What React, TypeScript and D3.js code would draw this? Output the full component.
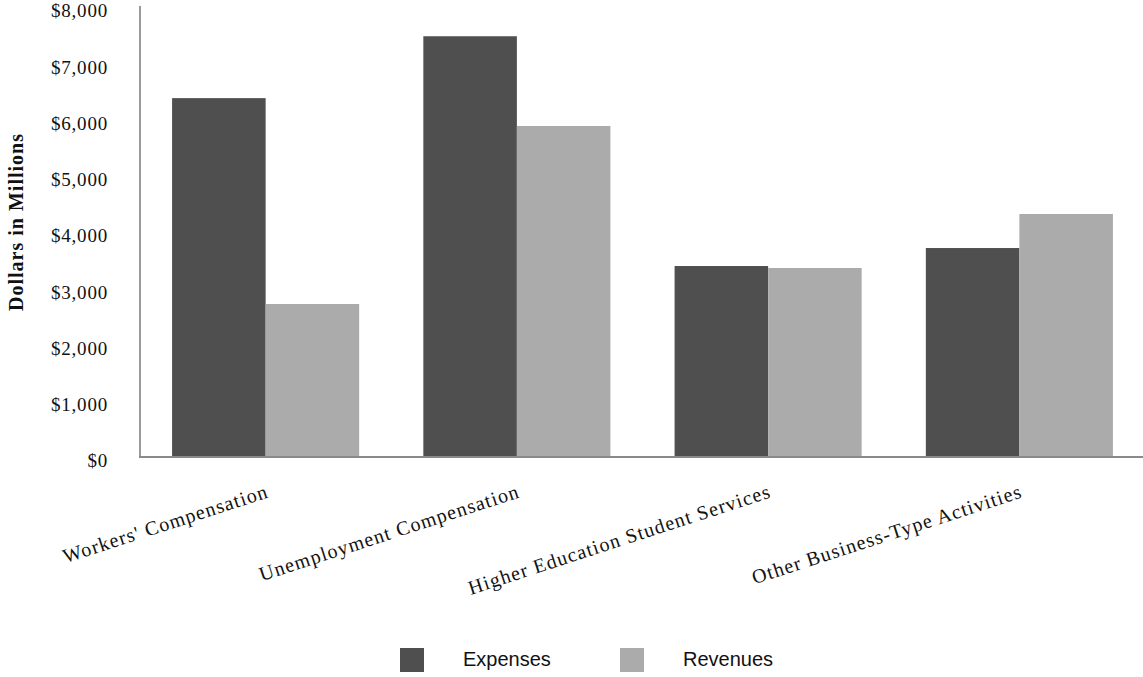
import React from 'react';
import * as d3 from 'd3';

const categories = [
  "Workers' Compensation",
  'Unemployment Compensation',
  'Higher Education Student Services',
  'Other Business-Type Activities',
];
const seriesNames = ['Expenses', 'Revenues'];
const expenses = [6380, 7480, 3395, 3715];
const revenues = [2720, 5885, 3360, 4320];
const yTicks = [0, 1000, 2000, 3000, 4000, 5000, 6000, 7000, 8000];
const colors = ['#4f4f4f', '#ababab'];

const width = 1143;
const height = 677;
const serif = '"Liberation Serif", "Times New Roman", serif';
const sans = '"Liberation Sans", Arial, sans-serif';

const App: React.FC = () => {
  const axisX = 140;
  const y = d3.scaleLinear().domain([0, 8000]).range([457, 7]);
  const x0 = d3.scaleBand<string>().domain(categories).range([axisX, 1145]).padding(0);
  const x1 = d3
    .scaleBand<string>()
    .domain(seriesNames)
    .range([0, x0.bandwidth()])
    .paddingInner(0)
    .paddingOuter(0.343);
  const values = [expenses, revenues];
  const fmt = (v: number) => '$' + d3.format(',')(v);

  return (
    <svg
      width={width}
      height={height}
      style={{ position: 'absolute', left: 0, top: 0, background: '#fff' }}
    >
      {/* bars */}
      {categories.map((c, i) => (
        <g key={c} transform={`translate(${x0(c)},0)`}>
          {seriesNames.map((s, j) => (
            <rect
              key={s}
              x={x1(s)}
              y={y(values[j][i])}
              width={x1.bandwidth()}
              height={y(0) - y(values[j][i])}
              fill={colors[j]}
            />
          ))}
        </g>
      ))}

      {/* axes */}
      <line x1={axisX} x2={axisX} y1={y(8000) - 1} y2={y(0)} stroke="#9a9a9a" strokeWidth={2} />
      <line x1={axisX - 1} x2={width} y1={y(0)} y2={y(0)} stroke="#8a8a8a" strokeWidth={2} />

      {/* y tick labels */}
      {yTicks.map((t) => (
        <text
          key={t}
          x={108}
          y={y(t) + 6}
          textAnchor="end"
          dominantBaseline="middle"
          fontFamily={serif}
          fontSize={19}
          letterSpacing={0.8}
          fill="#111"
        >
          {fmt(t)}
        </text>
      ))}

      {/* y title */}
      <text
        transform={`translate(18,222) rotate(-90)`}
        textAnchor="middle"
        dominantBaseline="middle"
        fontFamily={serif}
        fontWeight="bold"
        fontSize={20}
        letterSpacing={1}
        fill="#111"
      >
        Dollars in Millions
      </text>

      {/* category labels */}
      {categories.map((c) => {
        const cx = (x0(c) as number) + x0.bandwidth() / 2;
        return (
          <text
            key={c}
            transform={`translate(${cx + 4},${497}) rotate(-18)`}
            textAnchor="end"
            fontFamily={serif}
            fontSize={20}
            letterSpacing={1.1}
            fill="#111"
          >
            {c}
          </text>
        );
      })}

      {/* legend */}
      {seriesNames.map((s, j) => (
        <g key={s} transform={`translate(${400 + j * 220},648)`}>
          <rect width={24} height={24} fill={colors[j]} />
          <text x={63} y={13} dominantBaseline="middle" fontFamily={sans} fontSize={20} fill="#111">
            {s}
          </text>
        </g>
      ))}
    </svg>
  );
};

export default App;
